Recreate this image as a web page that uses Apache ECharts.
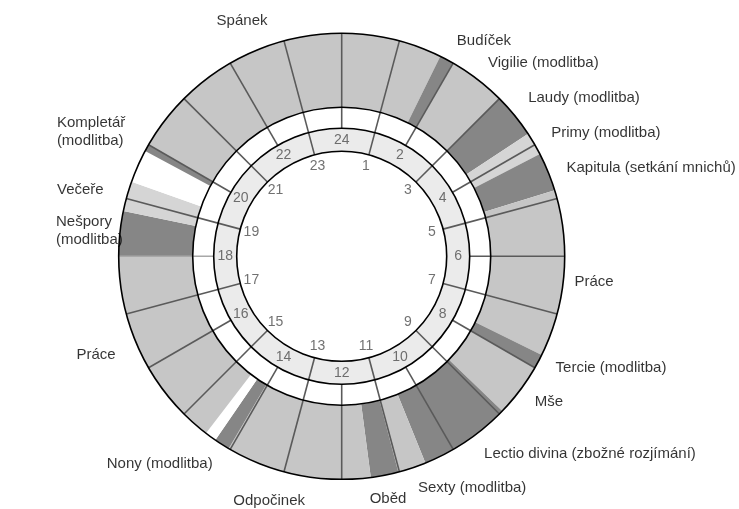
<!DOCTYPE html>
<html><head><meta charset="utf-8">
<script src="https://cdn.jsdelivr.net/npm/echarts@6/dist/echarts.min.js"></script>
<style>html,body{margin:0;padding:0;background:#fff}#c{width:739px;height:509px}</style>
</head><body><div id="c"></div>
<script>
// ---- data (hours of the day, 0 = midnight at top, clockwise) ----
const segNames = ['Spánek','Budíček','Vigilie (modlitba)','Laudy (modlitba)','Primy (modlitba)','Kapitula (setkání mnichů)','Práce','Tercie (modlitba)','Mše','Lectio divina (zbožné rozjímání)','Volno','Sexty (modlitba)','Oběd','Odpočinek','Nony (modlitba)','Volno','Práce','Nešpory (modlitba)','Večeře','Volno','Kompletář (modlitba)','Spánek'];
const segStart = [0, 1.75, 2, 3, 3.78, 4.18, 4.85, 7.75, 8, 8.93, 10.53, 11.02, 11.5, 12, 14.03, 14.3, 14.5, 18, 18.78, 19.3, 19.88, 20];
const segTone  = ['light','dark','light','dark','pale','dark','light','dark','light','dark','light','dark','light','light','dark','none','light','dark','pale','none','dark','light'];
const dayEnd = 24;
const hourValues = [0,1,2,3,4,5,6,7,8,9,10,11,12,13,14,15,16,17,18,19,20,21,22,23];
const hourLabels = ['24','1','2','3','4','5','6','7','8','9','10','11','12','13','14','15','16','17','18','19','20','21','22','23'];
const labelTexts = ['Spánek','Budíček','Vigilie (modlitba)','Laudy (modlitba)','Primy (modlitba)','Kapitula (setkání mnichů)','Práce','Tercie (modlitba)','Mše','Lectio divina (zbožné rozjímání)','Sexty (modlitba)','Oběd','Odpočinek','Nony (modlitba)','Práce','Nešpory\n(modlitba)','Večeře','Kompletář\n(modlitba)'];

// ---- layout (label anchors as [radius, hour]) ----
const labelAnchor = [[255.6,22.47],[258.1,2.23],[279.4,3.08],[289.4,3.79],[291.6,4.33],[321.7,4.94],[253.6,6.39],[291.5,7.50],[253.4,8.34],[317.4,8.57],[265.8,10.04],[247.1,11.28],[255.3,13.10],[276.0,14.75],[264.8,16.54],[286.8,18.34],[292.3,18.87],[310.7,19.57]];
const labelAlign = ['center','center','center','center','center','center','center','center','center','center','center','center','center','center','center','left','left','left'];
const CX = 341.7, CY = 256.3;
const R_OUT = 223, R_RING_IN = 149, R_HOUR_OUT = 128, R_HOUR_IN = 105;
const R_EVEN_LBL = 116.5, R_ODD_LBL = 93.5;
const toneColor = {light:'#c6c6c6', dark:'#868686', pale:'#d5d5d5', none:'#ffffff'};
const FONT = 'Liberation Sans, Arial, sans-serif';

const pieData = segStart.map((s, i) => {
  const e = i + 1 < segStart.length ? segStart[i + 1] : dayEnd;
  return { name: segNames[i] + '#' + i, value: e - s, itemStyle: { color: toneColor[segTone[i]] } };
});

const chart = echarts.init(document.getElementById('c'), null, {renderer:'canvas'});
const ringBase = {
  type:'pie', center:[CX, CY], startAngle:90, clockwise:true, silent:true,
  label:{show:false}, labelLine:{show:false}, emphasis:{disabled:true}, animation:false
};
chart.setOption({
  backgroundColor:'#ffffff',
  animation:false,
  polar:{center:[CX, CY], radius:R_OUT},
  angleAxis:{type:'value', min:0, max:24, startAngle:90, clockwise:true, show:false},
  radiusAxis:{type:'value', min:0, max:R_OUT, show:false},
  series:[
    Object.assign({}, ringBase, {radius:[R_RING_IN, R_OUT], z:2, data:pieData, itemStyle:{borderWidth:0}}),
    Object.assign({}, ringBase, {radius:[R_HOUR_IN, R_HOUR_OUT], z:2, data:[{value:1, itemStyle:{color:'#ebebeb'}}], itemStyle:{borderWidth:0}}),
    {
      type:'custom', coordinateSystem:'polar', silent:true, z:3, animation:false, clip:false,
      data: hourValues.map(h => [R_OUT, h]),
      renderItem(params, api){
        const h = api.value(1);
        const r0 = (h % 2 === 0) ? R_HOUR_OUT : R_HOUR_IN;
        const p0 = api.coord([r0, h]);
        const p1 = api.coord([api.value(0), h]);
        const col = (h === 18) ? '#a8a8a8' : '#5a5a5a';
        return {type:'line', shape:{x1:p0[0], y1:p0[1], x2:p1[0], y2:p1[1]}, style:{stroke:col, lineWidth:1.6}};
      }
    },
    Object.assign({}, ringBase, {radius:[R_RING_IN, R_OUT], z:4, data:[{value:1}], itemStyle:{color:'rgba(0,0,0,0)', borderColor:'#000', borderWidth:1.6}}),
    Object.assign({}, ringBase, {radius:[R_HOUR_IN, R_HOUR_OUT], z:4, data:[{value:1}], itemStyle:{color:'rgba(0,0,0,0)', borderColor:'#000', borderWidth:1.6}}),
    {
      type:'scatter', coordinateSystem:'polar', silent:true, z:5, symbolSize:1, animation:false, clip:false,
      itemStyle:{color:'rgba(0,0,0,0)'},
      data: hourValues.map((h, i) => ({value:[(h % 2 === 0) ? R_EVEN_LBL : R_ODD_LBL, h], label:{formatter: hourLabels[i]}})),
      label:{show:true, position:'inside', color:'#4d4d4d', fontSize:14, fontFamily:FONT, align:'center', verticalAlign:'middle'}
    },
    {
      type:'scatter', coordinateSystem:'polar', silent:true, z:5, symbolSize:1, animation:false, clip:false,
      itemStyle:{color:'rgba(0,0,0,0)'},
      labelLayout:{hideOverlap:false},
      data: labelTexts.map((t, i) => ({value:labelAnchor[i], label:{formatter:t, align:labelAlign[i]}})),
      label:{show:true, position:'inside', color:'#000', fontSize:15, fontFamily:FONT, verticalAlign:'middle', lineHeight:18}
    }
  ]
});
</script></body></html>
